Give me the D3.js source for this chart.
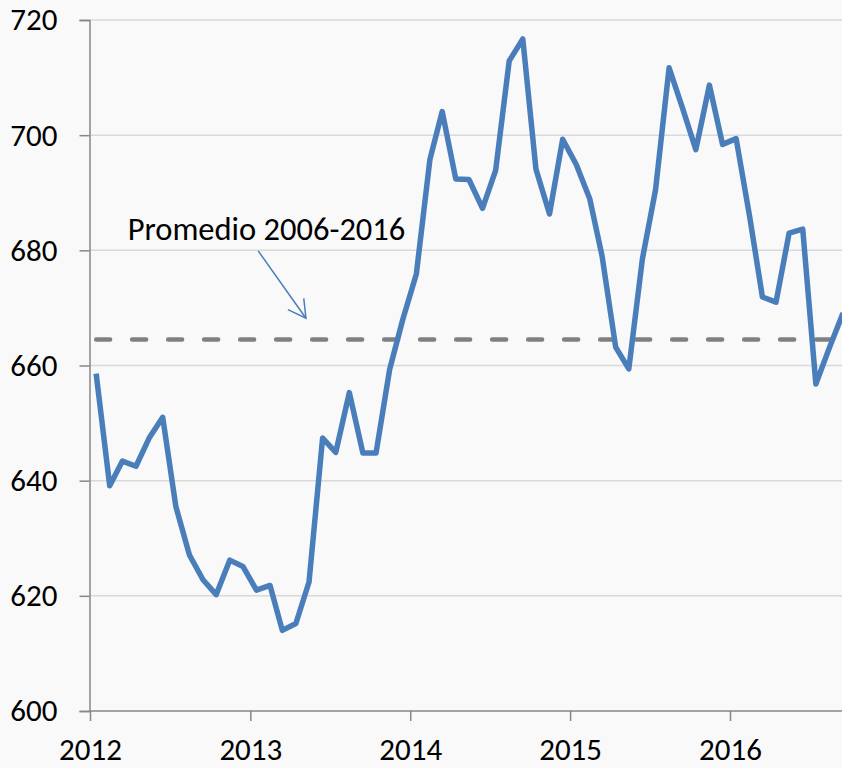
<!DOCTYPE html>
<html>
<head>
    <meta charset="utf-8">
    <title>promedio chart</title>
    <script src="https://d3js.org/d3.v7.min.js"></script>
    <style>
      body { margin: 0; background: #f9f9f9; }
      text { font-family: Carlito, Calibri, Lato, sans-serif; fill: #000; }
    </style>
</head>
<body>
<script>

        // monthly values, starting January 2012
        var startYear = 2012
        var values = [
            658.6, 639.1, 643.4, 642.5, 647.4, 651.0, 635.5, 627.1, 622.8, 620.2, 626.2, 625.1,
            621.0, 621.8, 614.0, 615.2, 622.4, 647.4, 644.9, 655.3, 644.8, 644.8, 659.3, 668.0,
            675.9, 695.8, 704.1, 692.4, 692.3, 687.3, 693.9, 712.9, 716.7, 694.1, 686.3, 699.3,
            694.9, 688.9, 679.0, 663.2, 659.4, 678.5, 690.5, 711.7, 704.6, 697.5, 708.7, 698.4,
            699.4, 685.8, 671.9, 671.0, 683.0, 683.7, 656.8, 663.1, 669.1
        ]
        var average = 664.5
        var yTicks = [600, 620, 640, 660, 680, 700, 720]
        var xTickYears = [2012, 2013, 2014, 2015, 2016]
        var noteLabel = "Promedio 2006-2016"
        var noteText = [new Date(2012, 2, 27), 681.8]
        var noteArrow = [[new Date(2013, 0, 19), 679.9], [new Date(2013, 4, 8), 668.2]]

        var width = 842
        var height = 768
        var fontSize = "31px"

        var svg = d3.select("body").append("svg").attr("width", width).attr("height", height)

        svg.append("rect").attr("width", width).attr("height", height).attr("fill", "#f9f9f9")

        var data = values.map(function(v, i) {
            return {date: new Date(startYear, i, 15), value: v}
        })

        var x = d3.scaleTime()
            .domain([new Date(2012, 0, 1), new Date(2016, 0, 1)])
            .range([90, 730])

        var y = d3.scaleLinear()
            .domain([600, 720])
            .range([711, 20])

        // gridlines
        svg.append("g").selectAll("line")
            .data(yTicks.filter(function(d){ return d > 600 }))
            .enter()
            .append("line")
            .attr("x1", 90)
            .attr("x2", width)
            .attr("y1", function(d){ return y(d) })
            .attr("y2", function(d){ return y(d) })
            .attr("stroke", "#d9d9d9")
            .attr("stroke-width", 1.5)

        // y axis
        var yAxis = svg.append("g")
            .attr("transform", "translate(89.5,0)")
            .call(d3.axisLeft(y).tickValues(yTicks).tickSize(10).tickPadding(22).tickFormat(d3.format("d")))
        yAxis.select(".domain").attr("stroke", "#868686").attr("stroke-width", 1.5)
        yAxis.selectAll(".tick line").attr("stroke", "#868686").attr("stroke-width", 1.5)
        yAxis.selectAll("text").style("font-size", fontSize).attr("fill", "#000")

        // x axis
        var xAxis = svg.append("g")
            .attr("transform", "translate(0,711)")
            .call(d3.axisBottom(x)
                .tickValues(xTickYears.map(function(yr){ return new Date(yr, 0, 1) }))
                .tickSize(10)
                .tickFormat(d3.timeFormat("%Y")))
        xAxis.select(".domain").remove()
        xAxis.append("line")
            .attr("x1", 89).attr("x2", width)
            .attr("stroke", "#868686").attr("stroke-width", 1.5)
        xAxis.selectAll(".tick line").attr("stroke", "#868686").attr("stroke-width", 1.5)
        xAxis.selectAll("text")
            .style("font-size", fontSize)
            .attr("fill", "#000")
            .attr("y", 49)
            .attr("dy", 0)

        // average dashed line
        var line = d3.line()
            .x(function(d){ return x(d.date) })
            .y(function(d){ return y(d.value) })

        svg.append("path")
            .datum(data.map(function(d){ return {date: d.date, value: average} }))
            .attr("d", line)
            .attr("fill", "none")
            .attr("stroke", "#808080")
            .attr("stroke-width", 4.5)
            .attr("stroke-linecap", "round")
            .attr("stroke-dasharray", "14,22")

        // series
        svg.append("path")
            .datum(data)
            .attr("d", line)
            .attr("fill", "none")
            .attr("stroke", "#4a7ebb")
            .attr("stroke-width", 5.5)
            .attr("stroke-linejoin", "round")

        // annotation
        svg.append("defs").append("marker")
            .attr("id", "head")
            .attr("markerUnits", "userSpaceOnUse")
            .attr("markerWidth", 30).attr("markerHeight", 30)
            .attr("refX", 20).attr("refY", 15)
            .attr("viewBox", "0 0 30 30")
            .attr("orient", "auto")
            .append("path")
            .attr("d", "M2.5,5.3 L20,15 L2.5,24.7")
            .attr("fill", "none")
            .attr("stroke", "#4a7ebb")
            .attr("stroke-width", 1.5)

        svg.append("line")
            .attr("x1", x(noteArrow[0][0])).attr("y1", y(noteArrow[0][1]))
            .attr("x2", x(noteArrow[1][0])).attr("y2", y(noteArrow[1][1]))
            .attr("stroke", "#4a7ebb")
            .attr("stroke-width", 1.5)
            .attr("marker-end", "url(#head)")

        svg.append("text")
            .attr("x", x(noteText[0]))
            .attr("y", y(noteText[1]))
            .style("font-size", "32.5px")
            .text(noteLabel)

</script>
</body>
</html>
